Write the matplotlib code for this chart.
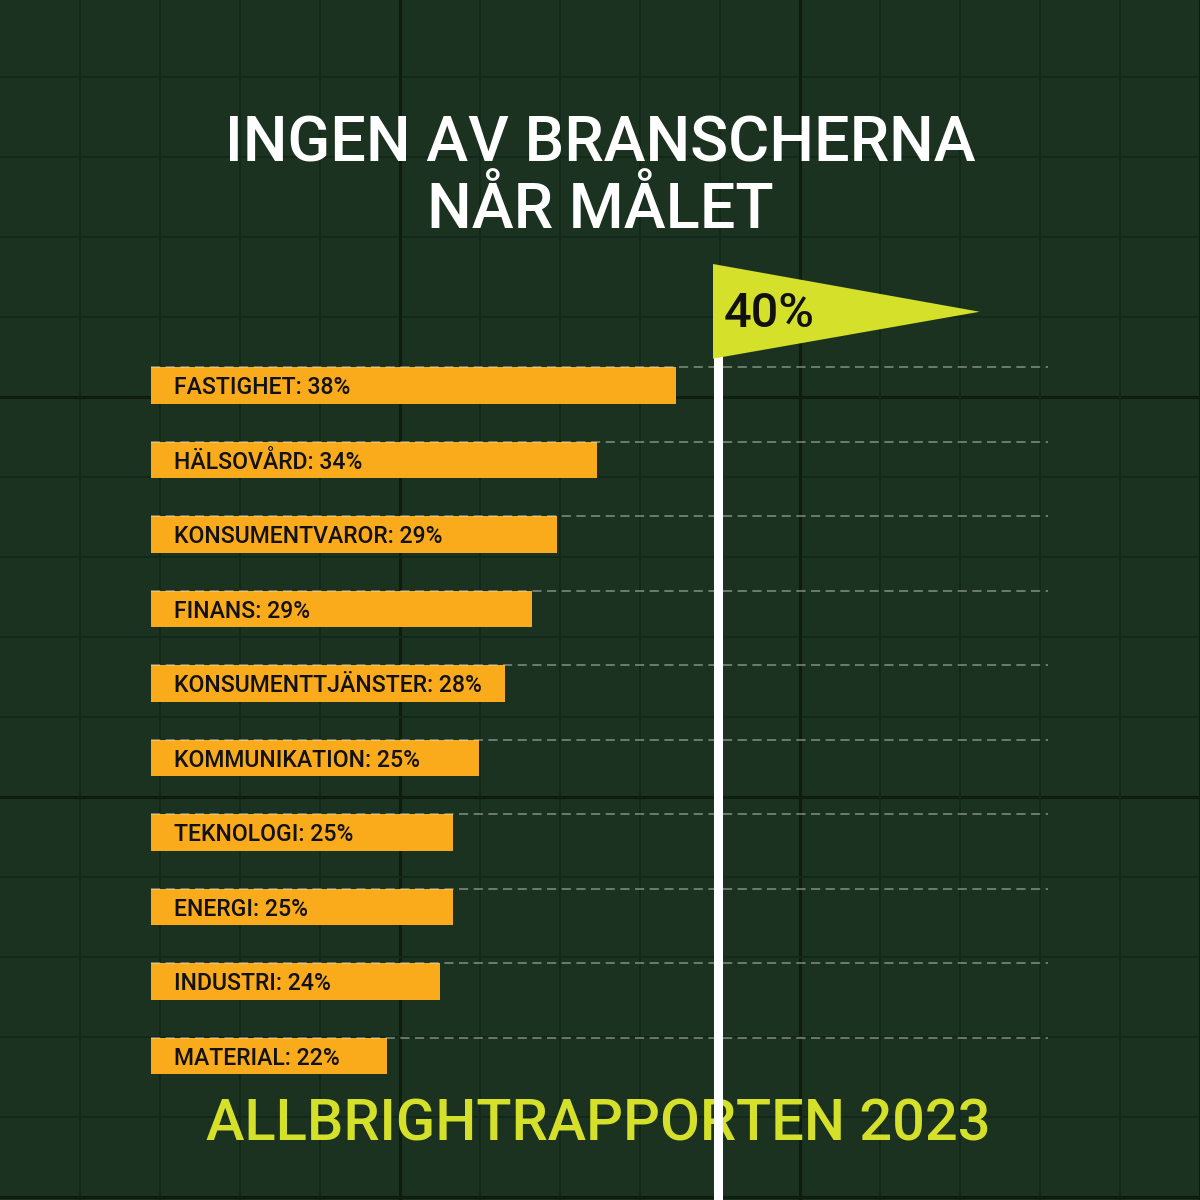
import matplotlib.pyplot as plt
from matplotlib import font_manager

installed = set(f.name for f in font_manager.fontManager.ttflist)


def pick(*names):
    for n in names:
        if n in installed:
            return n
    return 'DejaVu Sans'


FONT = pick('Roboto', 'Inter', 'Liberation Sans', 'DejaVu Sans')

# data
sectors = ['FASTIGHET', 'HÄLSOVÅRD', 'KONSUMENTVAROR', 'FINANS', 'KONSUMENTTJÄNSTER',
           'KOMMUNIKATION', 'TEKNOLOGI', 'ENERGI', 'INDUSTRI', 'MATERIAL']
shares = [38, 34, 29, 29, 28, 25, 25, 25, 24, 22]
# bar lengths as drawn in the original graphic (in %)
bar_len = [37.1, 31.5, 28.7, 26.9, 25.0, 23.2, 21.3, 21.3, 20.4, 16.7]
target = 40

title_lines = ['INGEN AV BRANSCHERNA', 'NÅR MÅLET']
footer = 'ALLBRIGHTRAPPORTEN 2023'

BG = '#1b3220'
GRID = '#142819'
GRID_DARK = '#0e1d10'
BAR = '#f9ab1c'
LIME = '#d5e02a'

W = H = 1200
fig = plt.figure(figsize=(12, 12), dpi=100)
fig.patch.set_facecolor(BG)

# background grid
bg = fig.add_axes([0, 0, 1, 1], zorder=-2)
bg.set_xlim(0, W)
bg.set_ylim(H, 0)
bg.set_facecolor(BG)
bg.axis('off')
for k in range(1, 16):
    dark = k % 5 == 0
    bg.axvline(80 * k, color=GRID_DARK if dark else GRID, lw=2.2 if dark else 1.4)
    bg.axhline(80 * k - 3, color=GRID_DARK if dark else GRID, lw=2.2 if dark else 1.4)

# main chart axes: 0% at x=151px, 40% at x=717px, rows 74.5px apart
px_per_pct = (717.5 - 150.7) / 40
ax = fig.add_axes([150.7 / W, 0, (1048 - 150.7) / W, (H - 264) / H])
ax.set_xlim(0, (1048 - 150.7) / px_per_pct)
ax.set_ylim((H - 385.5) / 74.5, (264 - 385.5) / 74.5)
ax.patch.set_visible(False)
ax.axis('off')

bar_h = 0.49
ypos = list(range(len(sectors)))
ax.barh(ypos, bar_len, height=bar_h, color=BAR, zorder=2)
ax.hlines([y - bar_h / 2 for y in ypos], 0, ax.get_xlim()[1], colors='#e8ece6',
          alpha=0.5, lw=1.1, linestyles=(0, (6, 3.6)), zorder=3)

for y, name, v in zip(ypos, sectors, shares):
    ax.annotate(f'{name}: {v}%', xy=(0, y), xytext=(17, -6.3), textcoords='offset points',
                va='baseline', ha='left', fontsize=16.6, fontweight='medium',
                family=FONT, color='#121212', zorder=4)

# flag pole and flag at the target
pole_w = 9 / px_per_pct
ax.vlines(target, -1.0, ax.get_ylim()[0], colors='white', lw=6.5, zorder=5,
          capstyle='butt')
ylo, yhi = ax.get_ylim()
flag_x = [target - pole_w / 2, target - pole_w / 2, target + 18.5]
flag_y = [yhi, -0.36, -0.99]
ax.fill(flag_x, flag_y, color=LIME, zorder=6, clip_on=False, lw=0)
ax.annotate(f'{target}%', xy=(target - pole_w / 2, -0.36), xytext=(8, 22.5),
            textcoords='offset points', va='baseline', ha='left', fontsize=35,
            fontweight='medium', family=FONT, color='#111111', zorder=7)

# title
fig.text(0.5, 1 - 162 / H, title_lines[0], ha='center', va='baseline', color='white',
         fontsize=45.3, fontweight='medium', family=FONT)
fig.text(0.5, 1 - 228 / H, title_lines[1], ha='center', va='baseline', color='white',
         fontsize=45.3, fontweight='medium', family=FONT)

# footer (under the pole)
fig.text(0.499, 1 - 1140.5 / H, footer, ha='center', va='baseline', color=LIME,
         fontsize=41.6, fontweight='medium', family=FONT, zorder=-1)

fig.savefig('out.png', dpi=100, facecolor=BG)
